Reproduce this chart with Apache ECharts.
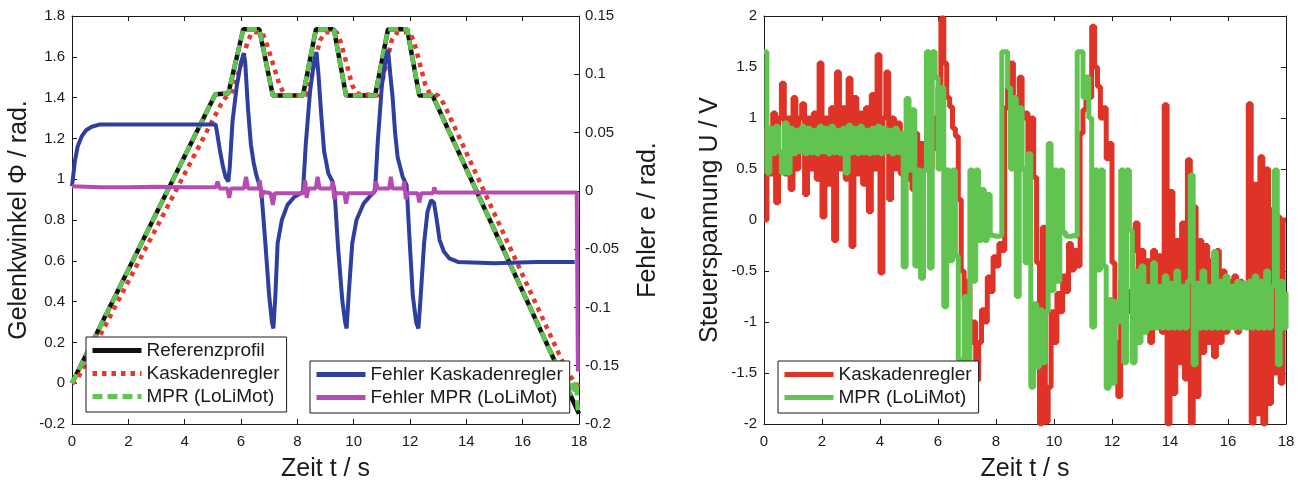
<!DOCTYPE html>
<html>
<head>
<meta charset="utf-8">
<script src="https://cdn.jsdelivr.net/npm/echarts@6.0.0/dist/echarts.min.js"></script>
<style>
  html, body { margin: 0; padding: 0; background: #fff; }
  #left { position: absolute; left: 0; top: 0; width: 680px; height: 481px; }
  #right { position: absolute; left: 680px; top: 0; width: 625px; height: 481px; }
</style>
</head>
<body>
<div id="left"></div>
<div id="right"></div>
<script>
// Gelenkwinkel (left axis), knot points of each curve
const refT = [0, 5.09, 5.55, 6.08, 6.65, 7.13, 8.2, 8.66, 9.3, 9.73, 10.76, 11.22, 11.9, 12.33, 12.8, 18];
const refV = [0, 1.416, 1.42, 1.735, 1.735, 1.41, 1.41, 1.735, 1.735, 1.41, 1.41, 1.735, 1.735, 1.41, 1.41, -0.15];

const kasT = [0, 0.15, 0.3, 5.3, 5.45, 5.65, 5.8, 6.25, 6.4, 6.75, 6.9, 7.35, 7.5, 7.7, 8.3, 8.4, 8.8, 9.0, 9.4, 9.55, 9.95, 10.1, 10.85, 10.95, 11.35, 11.55, 12.0, 12.15, 12.55, 12.7, 13.0, 13.2, 17.6, 18];
const kasV = [0, 0.01, 0.05, 1.37, 1.4, 1.42, 1.47, 1.68, 1.72, 1.72, 1.67, 1.47, 1.425, 1.41, 1.41, 1.44, 1.68, 1.72, 1.72, 1.67, 1.46, 1.42, 1.41, 1.44, 1.68, 1.72, 1.72, 1.67, 1.46, 1.42, 1.41, 1.37, 0.05, -0.02];

const mprT = [0, 5.09, 5.55, 6.08, 6.65, 7.13, 8.2, 8.66, 9.3, 9.73, 10.76, 11.22, 11.9, 12.33, 12.8, 17.7, 17.78, 17.85, 17.9, 17.95, 18];
const mprV = [0, 1.416, 1.42, 1.735, 1.735, 1.41, 1.41, 1.735, 1.735, 1.41, 1.41, 1.735, 1.735, 1.41, 1.41, -0.06, 0.0, -0.04, 0.01, -0.12, -0.15];

// Fehler (right axis)
const errKasT = [0, 0.1, 0.2, 0.35, 0.5, 0.7, 1.0, 2, 3, 4, 5.1, 5.15, 5.25, 5.35, 5.45, 5.55, 5.6, 5.7, 5.85, 6.0, 6.1, 6.15, 6.25, 6.35, 6.45, 6.55, 6.65, 6.72, 6.85, 7.0, 7.1, 7.15, 7.22, 7.3, 7.45, 7.65, 7.9, 8.2, 8.3, 8.45, 8.6, 8.68, 8.75, 8.85, 8.95, 9.1, 9.25, 9.32, 9.45, 9.6, 9.7, 9.75, 9.82, 9.95, 10.1, 10.35, 10.6, 10.76, 10.85, 11.0, 11.15, 11.22, 11.3, 11.38, 11.47, 11.56, 11.74, 11.88, 11.98, 12.1, 12.22, 12.3, 12.38, 12.5, 12.62, 12.75, 12.85, 12.95, 13.05, 13.2, 13.4, 13.7, 15, 16.5, 17.85];
const errKasV = [0.004, 0.025, 0.038, 0.047, 0.052, 0.055, 0.057, 0.057, 0.057, 0.057, 0.057, 0.05, 0.035, 0.022, 0.012, 0.008, 0.02, 0.06, 0.09, 0.11, 0.118, 0.11, 0.07, 0.04, 0.024, 0.013, 0.005, 0.0, -0.04, -0.09, -0.113, -0.118, -0.09, -0.045, -0.025, -0.012, -0.005, -0.001, 0.04, 0.085, 0.112, 0.119, 0.1, 0.065, 0.034, 0.015, 0.008, 0.0, -0.05, -0.095, -0.113, -0.118, -0.09, -0.045, -0.025, -0.011, -0.004, 0.0, 0.04, 0.09, 0.115, 0.121, 0.1, 0.081, 0.05, 0.029, 0.012, 0.005, -0.04, -0.09, -0.113, -0.118, -0.09, -0.045, -0.018, -0.008, -0.01, -0.025, -0.042, -0.052, -0.058, -0.061, -0.062, -0.061, -0.061];

const errMprT = [0, 1, 2, 3, 4, 5.1, 5.17, 5.24, 5.52, 5.58, 5.64, 6.1, 6.18, 6.25, 6.62, 6.67, 6.72, 6.8, 7.05, 7.13, 7.2, 8.22, 8.28, 8.33, 8.4, 8.65, 8.72, 8.79, 9.2, 9.26, 9.31, 9.38, 9.67, 9.73, 9.8, 10.72, 10.79, 10.86, 11.26, 11.32, 11.38, 11.75, 11.8, 11.85, 11.92, 12.27, 12.33, 12.4, 12.82, 12.86, 12.92, 17.92, 17.94, 17.96];
const errMprV = [0.004, 0.003, 0.003, 0.0035, 0.003, 0.003, 0.008, 0.002, 0.002, -0.006, 0.002, 0.002, 0.012, 0.002, 0.002, 0.009, -0.006, -0.001, -0.002, -0.012, -0.002, -0.002, 0.009, -0.006, 0.002, 0.002, 0.012, 0.002, 0.002, 0.008, -0.007, -0.002, -0.002, -0.011, -0.002, -0.002, 0.008, 0.002, 0.002, 0.012, 0.002, 0.002, 0.008, -0.007, -0.002, -0.002, -0.01, -0.002, -0.002, 0.003, -0.0015, -0.0015, -0.08, -0.155];

// Steuerspannung, one value every 0.1 s from 0 to 18 s
const uStep = 0.1;
const uKaskade = [
  0.0, 0.9, 0.45, 1.05, 0.17, 1.0, 1.34, 0.45, 1.0, 0.3,
  1.2, 0.5, 1.0, 1.14, 0.25, 1.0, 0.5, 1.05, 0.4, 1.54,
  0.03, 1.0, 0.35, 1.1, -0.2, 1.45, 0.5, 1.1, 0.4, 1.39,
  -0.26, 1.2, 0.45, 1.05, 0.35, 1.1, 0.08, 1.23, 0.5, 1.62,
  -0.52, 1.0, 1.45, 0.2, 1.0, 0.5, 0.95, 0.45, 0.85, 0.4,
  0.9, 0.3, 0.85, 0.4, 0.75, 0.5, 0.6, 0.5, 1.0, 0.7,
  1.3, 1.98, 1.54, 1.2, 1.11, 0.9, 0.82, 0.2, -0.5, -0.78,
  -0.6, -1.2, -1.0, -1.57, -1.2, -0.88, -1.0, -0.56, -0.7, -0.36,
  -0.45, -0.23, -0.3, 1.1, 1.3, 1.54, 1.2, 1.0, 1.4, 1.0,
  1.05, 0.5, 1.0, 0.42, -0.42, -2.0, -0.07, -1.98, -1.64, -0.9,
  -1.2, -0.72, -0.9, -0.55, -0.7, -0.23, -0.49, -0.3, -0.45, 0.85,
  1.08, 1.4, 1.2, 1.9, 1.5, 1.31, 1.0, 1.1, 0.6, 0.75,
  -0.42, -1.2, -1.73, -0.6, -1.0, -0.7, -0.9, -0.3, -0.03, -0.6,
  -0.3, -1.0, -0.4, -1.2, -0.3, -1.0, -0.35, -1.1, 1.13, -2.0,
  0.28, -1.7, -0.2, -1.4, -0.03, -1.56, 0.59, -1.99, 0.13, -1.73,
  -0.2, -1.3, -0.25, -1.2, -0.4, -1.34, -0.3, -1.2, -0.5, -1.1,
  -0.6, -1.05, -0.55, -1.1, -0.6, -1.0, -0.65, 1.14, -1.99, 0.35,
  -1.9, 0.62, -2.0, 0.5, -1.8, 0.1, -1.5, 0.03, -1.6, 0.0,
  0.0
];
const uMpr = [
  1.65, 0.46, 0.9, 0.65, 0.92, 0.67, 0.46, 0.95, 0.46, 0.9,
  0.65, 0.88, 0.67, 0.92, 0.65, 0.9, 0.66, 0.88, 0.65, 0.92,
  0.67, 0.9, 0.65, 0.92, 0.66, 0.88, 0.65, 0.9, 0.46, 0.93,
  0.66, 0.9, 0.65, 0.92, 0.66, 0.88, 0.65, 0.9, 0.66, 0.92,
  0.65, 0.9, 0.67, 0.88, 0.65, 0.9, 0.66, 0.85, -0.46, 1.19,
  0.49, 1.08, -0.45, 0.49, -0.57, 0.49, 1.65, -0.47, 1.65, 1.4,
  0.5, 1.3, -0.85, 0.49, -0.4, 0.49, -0.35, -1.37, -1.54, -0.75,
  -1.5, 0.49, -0.6, 0.49, -0.2, 0.3, -0.2, 0.25, -0.15, -0.16,
  -0.16, -0.15, 1.65, 1.65, 1.3, 0.5, 1.2, -0.75, 1.1, 0.5,
  -0.42, 0.65, -1.64, -0.82, -1.44, -0.88, -1.4, -0.9, 0.75, -0.69,
  0.49, -0.6, 0.49, -0.12, -0.16, -0.16, -0.15, -0.16, 1.65, 1.65,
  1.2, 1.4, 1.0, -1.05, 0.49, -0.49, 0.49, -0.45, -1.65, -0.78,
  -1.6, -0.8, -1.0, 0.49, -1.4, 0.49, -0.1, -1.4, -0.5, -1.2,
  -0.45, -1.1, -0.65, -1.06, -0.42, -1.06, -0.65, -1.06, -0.55, -1.06,
  -0.62, -1.06, -0.5, -1.06, -0.65, -1.06, -0.6, 0.44, -1.42, -0.62,
  -1.06, -0.5, -1.06, -0.65, -1.06, -0.31, -1.06, -0.6, -1.06, -0.55,
  -1.06, -0.65, -1.06, -0.6, -1.06, -0.62, -1.06, -0.6, -1.06, -0.55,
  -1.06, -0.6, -1.06, -0.5, -1.06, -0.65, 0.49, -1.42, -0.6, -1.06,
  -0.7
];

const FONT = '"Liberation Sans", Arial, Helvetica, sans-serif';
const INK = '#1a1a1a';

const pairs = (ts, vs) => ts.map((t, i) => [t, vs[i]]);
const uTime = uKaskade.map((v, i) => +(i * uStep).toFixed(1));

// matlab-like box axis: inside ticks, no grid
function boxAxis(opts) {
    return Object.assign({
        type: 'value',
        axisLine: { show: true, onZero: false, lineStyle: { color: INK, width: 1 } },
        axisTick: { show: true, inside: true, length: 5, lineStyle: { color: INK, width: 1 } },
        axisLabel: { show: true, color: INK, fontSize: 15, fontFamily: FONT },
        splitLine: { show: false },
        nameMoveOverlap: false,
        nameTextStyle: { color: INK, fontSize: 25, fontFamily: FONT }
    }, opts);
}

const legendBase = {
    orient: 'vertical',
    itemWidth: 49,
    itemHeight: 14,
    itemGap: 4,
    padding: [4, 7, 6, 4],
    backgroundColor: '#fff',
    borderColor: INK,
    borderWidth: 1,
    borderRadius: 0,
    selectedMode: false,
    itemStyle: { opacity: 0 },
    lineStyle: { width: 5 },
    textStyle: { color: INK, fontSize: 19, fontFamily: FONT }
};

const leftChart = echarts.init(document.getElementById('left'));
leftChart.setOption({
    animation: false,
    textStyle: { fontFamily: FONT },
    grid: { left: 72, top: 16, width: 507, height: 408, outerBoundsMode: 'none', containLabel: false },
    legend: [
        Object.assign({}, legendBase, {
            left: 86, top: 337,
            data: ['Referenzprofil', 'Kaskadenregler', 'MPR (LoLiMot)']
        }),
        Object.assign({}, legendBase, {
            left: 310, top: 361,
            data: ['Fehler Kaskadenregler', 'Fehler MPR (LoLiMot)']
        })
    ],
    xAxis: [
        boxAxis({
            min: 0, max: 18, interval: 2, position: 'bottom',
            axisLabel: { color: INK, fontSize: 15, fontFamily: FONT, margin: 10 },
            name: 'Zeit t / s', nameLocation: 'middle', nameGap: 33
        }),
        boxAxis({ min: 0, max: 18, interval: 2, position: 'top', axisLabel: { show: false } })
    ],
    yAxis: [
        boxAxis({
            min: -0.2, max: 1.8, interval: 0.2, position: 'left',
            axisLabel: { color: INK, fontSize: 15, fontFamily: FONT, margin: 7 },
            name: 'Gelenkwinkel \u03A6 / rad.', nameLocation: 'middle', nameGap: 40, nameRotate: 90
        }),
        boxAxis({
            min: -0.2, max: 0.15, interval: 0.05, position: 'right',
            axisLabel: { color: INK, fontSize: 15, fontFamily: FONT, margin: 6 },
            name: 'Fehler e / rad.', nameLocation: 'middle', nameGap: 57, nameRotate: 90
        })
    ],
    series: [
        {
            name: 'Referenzprofil', type: 'line', symbol: 'none',
            data: pairs(refT, refV),
            lineStyle: { color: '#111', width: 4.5 }, itemStyle: { color: '#111' }
        },
        {
            name: 'Kaskadenregler', type: 'line', symbol: 'none',
            data: pairs(kasT, kasV),
            lineStyle: { color: '#e5392a', width: 4.5, type: [4.5, 5] }, itemStyle: { color: '#e5392a' }
        },
        {
            name: 'MPR (LoLiMot)', type: 'line', symbol: 'none',
            data: pairs(mprT, mprV),
            lineStyle: { color: '#62c450', width: 4.5, type: [10, 5] }, itemStyle: { color: '#62c450' }
        },
        {
            name: 'Fehler Kaskadenregler', type: 'line', symbol: 'none', yAxisIndex: 1,
            data: pairs(errKasT, errKasV),
            lineStyle: { color: '#2f3f9f', width: 4 }, itemStyle: { color: '#2f3f9f' }
        },
        {
            name: 'Fehler MPR (LoLiMot)', type: 'line', symbol: 'none', yAxisIndex: 1,
            data: pairs(errMprT, errMprV),
            lineStyle: { color: '#b64cb2', width: 4 }, itemStyle: { color: '#b64cb2' }
        }
    ]
});

const rightChart = echarts.init(document.getElementById('right'));
rightChart.setOption({
    animation: false,
    textStyle: { fontFamily: FONT },
    grid: { left: 84, top: 16, width: 522, height: 408, outerBoundsMode: 'none', containLabel: false },
    legend: Object.assign({}, legendBase, {
        left: 98, top: 361,
        data: ['Kaskadenregler', 'MPR (LoLiMot)']
    }),
    xAxis: [
        boxAxis({
            min: 0, max: 18, interval: 2, position: 'bottom',
            axisLabel: { color: INK, fontSize: 15, fontFamily: FONT, margin: 10 },
            name: 'Zeit t / s', nameLocation: 'middle', nameGap: 33
        }),
        boxAxis({ min: 0, max: 18, interval: 2, position: 'top', axisLabel: { show: false } })
    ],
    yAxis: [
        boxAxis({
            min: -2, max: 2, interval: 0.5, position: 'left',
            axisLabel: { color: INK, fontSize: 15, fontFamily: FONT, margin: 7 },
            name: 'Steuerspannung U / V', nameLocation: 'middle', nameGap: 41, nameRotate: 90
        }),
        boxAxis({ min: -2, max: 2, interval: 0.5, position: 'right', axisLabel: { show: false } })
    ],
    series: [
        {
            name: 'Kaskadenregler', type: 'line', symbol: 'none', step: 'end',
            data: pairs(uTime, uKaskade),
            lineStyle: { color: '#de3326', width: 5 }, itemStyle: { color: '#de3326' }
        },
        {
            name: 'MPR (LoLiMot)', type: 'line', symbol: 'none', step: 'end',
            data: pairs(uTime, uMpr),
            lineStyle: { color: '#62c450', width: 5 }, itemStyle: { color: '#62c450' }
        }
    ]
});
</script>
</body>
</html>
